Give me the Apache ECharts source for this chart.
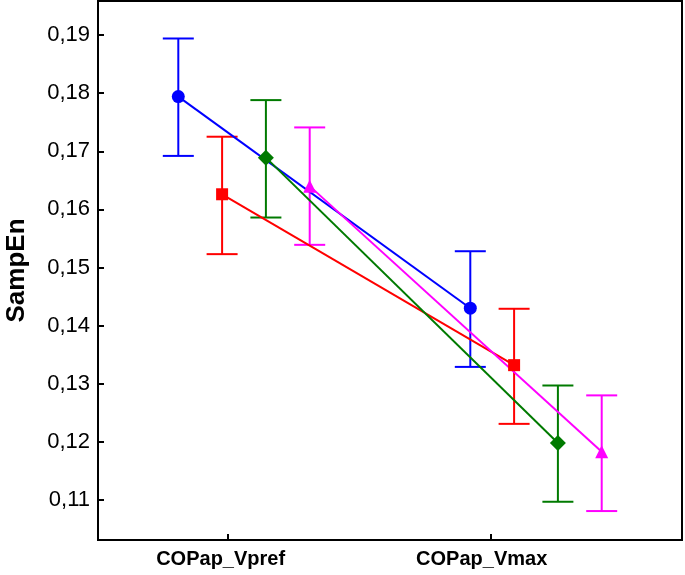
<!DOCTYPE html>
<html>
<head>
<meta charset="utf-8">
<script src="https://cdn.jsdelivr.net/npm/echarts@6/dist/echarts.min.js"></script>
<style>html,body{margin:0;padding:0;background:#fff}#c{width:685px;height:575px}</style>
</head>
<body>
<div id="c"></div>
<script>
const categories = ['COPap_Vpref', 'COPap_Vmax'];
const yTicks = [0.11, 0.12, 0.13, 0.14, 0.15, 0.16, 0.17, 0.18, 0.19];

const blueMean = [0.1794, 0.1430];
const blueLow  = [0.1692, 0.1329];
const blueHigh = [0.1894, 0.1528];

const redMean = [0.1626, 0.1332];
const redLow  = [0.1523, 0.1231];
const redHigh = [0.1725, 0.1429];

const greenMean = [0.1689, 0.1198];
const greenLow  = [0.1586, 0.1097];
const greenHigh = [0.1788, 0.1297];

const magentaMean = [0.1640, 0.1183];
const magentaLow  = [0.1539, 0.1081];
const magentaHigh = [0.1741, 0.1280];

// layout (not data)
const catPos = [1, 2];
const offsets = [-0.225, -0.075, 0.075, 0.225];
const groups = [
  {name: 'Group 1', color: '#0000ff', symbol: 'circle', size: 13, mean: blueMean, low: blueLow, high: blueHigh},
  {name: 'Group 2', color: '#ff0000', symbol: 'rect', size: 12, mean: redMean, low: redLow, high: redHigh},
  {name: 'Group 3', color: '#007a00', symbol: 'diamond', size: 16, mean: greenMean, low: greenLow, high: greenHigh},
  {name: 'Group 4', color: '#ff00ff', symbol: 'triangle', size: 13, mean: magentaMean, low: magentaLow, high: magentaHigh}
];

const FONT = '"Liberation Sans", Arial, sans-serif';
const series = [];
groups.forEach((g, i) => {
  const errData = catPos.map((p, j) => [p + offsets[i], g.low[j], g.high[j]]);
  series.push({
    type: 'custom',
    name: g.name,
    data: errData,
    encode: {x: 0, y: [1, 2]},
    z: 2,
    renderItem: function (params, api) {
      const x = api.value(0);
      const top = api.coord([x, api.value(2)]);
      const bot = api.coord([x, api.value(1)]);
      const hw = 15.5;
      const st = {stroke: g.color, lineWidth: 2};
      return {
        type: 'group',
        children: [
          {type: 'line', shape: {x1: top[0], y1: top[1], x2: bot[0], y2: bot[1]}, style: st},
          {type: 'line', shape: {x1: top[0] - hw, y1: top[1], x2: top[0] + hw, y2: top[1]}, style: st},
          {type: 'line', shape: {x1: bot[0] - hw, y1: bot[1], x2: bot[0] + hw, y2: bot[1]}, style: st}
        ]
      };
    }
  });
  series.push({
    type: 'line',
    name: g.name,
    data: catPos.map((p, j) => [p + offsets[i], g.mean[j]]),
    symbol: g.symbol,
    symbolSize: g.size,
    showSymbol: true,
    z: 3,
    lineStyle: {color: g.color, width: 2},
    itemStyle: {color: g.color},
    animation: false
  });
});

const chart = echarts.init(document.getElementById('c'));
chart.setOption({
  animation: false,
  backgroundColor: '#fff',
  grid: {left: 98, right: 3, top: 1, bottom: 35, show: true, borderColor: '#000', borderWidth: 2,
         containLabel: false, outerBoundsMode: 'none'},
  xAxis: {
    type: 'value',
    min: 0.5,
    max: 2.5,
    axisLine: {show: true, lineStyle: {color: '#000', width: 2}},
    axisTick: {show: true, inside: true, length: 6, lineStyle: {color: '#000', width: 2}, customValues: [0.946, 1.845]},
    axisLabel: {
      show: true, margin: 9, color: '#000', fontFamily: FONT, fontSize: 20, fontWeight: 'bold',
      customValues: [0.92, 1.814],
      formatter: v => (v < 1.4 ? categories[0] : categories[1])
    },
    splitLine: {show: false}
  },
  yAxis: {
    type: 'value',
    min: 0.10312,
    max: 0.19585,
    name: 'SampEn',
    nameLocation: 'middle',
    nameRotate: 90,
    nameGap: 68,
    nameTextStyle: {fontFamily: FONT, fontSize: 26, fontWeight: 'bold', color: '#000'},
    axisLine: {show: true, lineStyle: {color: '#000', width: 2}},
    axisTick: {show: true, inside: true, length: 6, lineStyle: {color: '#000', width: 2}, customValues: yTicks},
    axisLabel: {
      show: true, margin: 8, color: '#000', fontFamily: FONT, fontSize: 22,
      customValues: yTicks,
      formatter: v => v.toFixed(2).replace('.', ',')
    },
    splitLine: {show: false}
  },
  series: series
});
</script>
</body>
</html>
